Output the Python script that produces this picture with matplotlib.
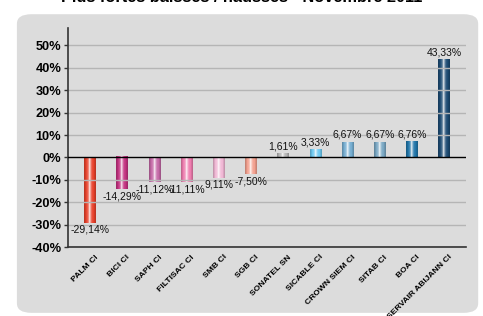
import numpy as np
import matplotlib
matplotlib.use("Agg")
import matplotlib.pyplot as plt
from matplotlib.patches import FancyBboxPatch
from matplotlib.colors import to_rgb
from matplotlib.transforms import ScaledTranslation

societes = ["PALM CI", "BICI CI", "SAPH CI", "FILTISAC CI", "SMB CI", "SGB CI",
            "SONATEL SN", "SICABLE CI", "CROWN SIEM CI", "SITAB CI", "BOA CI",
            "SERVAIR ABIJANN CI"]
variations = [-29.14, -14.29, -11.12, -11.11, -9.11, -7.50,
              1.61, 3.33, 6.67, 6.67, 6.76, 43.33]
etiquettes = ["-29,14%", "-14,29%", "-11,12%", "-11,11%", "9,11%", "-7,50%",
              "1,61%", "3,33%", "6,67%", "6,67%", "6,76%", "43,33%"]
couleurs = ["#e8402a", "#c2307f", "#c468a6", "#ee7cae", "#f0b6d4", "#f3a08e",
            "#b4b4b4", "#6cc8f0", "#74acd0", "#78a6c2", "#1f74a8", "#1c4a72"]

plt.rcParams["font.family"] = ["Liberation Sans", "DejaVu Sans"]

fig = plt.figure(figsize=(4.83, 3.16), dpi=100)
fig.patch.set_facecolor("white")

# fond gris arrondi
fond = FancyBboxPatch((0.035, 0.01), 0.955, 0.945,
                      boxstyle="round,pad=0,rounding_size=0.03",
                      transform=fig.transFigure, facecolor="#dcdcdc",
                      edgecolor="none", zorder=-5)
fig.patches.append(fond)

fig.text(0.5, 0.993, "Plus fortes baisses / hausses - Novembre 2011",
         ha="center", va="baseline", fontsize=11.8, fontweight="bold")

ax = fig.add_axes([0.141, 0.218, 0.824, 0.693])
ax.set_facecolor("none")
ax.set_zorder(2)

x = np.arange(len(societes))
w = 0.36

# effet cylindre sur chaque barre
profil = np.linspace(-1, 1, 80)
for xi, v, c in zip(x, variations, couleurs):
    base = np.array(to_rgb(c))
    lum = 0.55 * np.exp(-((profil + 0.05) / 0.32) ** 2) + 0.45 * np.exp(-((profil + 0.05) / 0.08) ** 2)
    ombre = 0.18 * (np.abs(profil) > 0.75)
    img = base[None, :] * (1 - lum[:, None]) + lum[:, None]
    img = img * (1 - ombre[:, None])
    img = np.clip(img, 0, 1)[None, :, :]
    y0, y1 = (0, v / 100) if v > 0 else (v / 100, 0)
    ax.imshow(img, extent=(xi - w / 2, xi + w / 2, y0, y1), aspect="auto",
              origin="lower", zorder=1, interpolation="bilinear")

for xi, v, lab in zip(x, variations, etiquettes):
    if v >= 0:
        ax.text(xi, v / 100 + 0.012, lab, ha="center", va="bottom", fontsize=7.5,
                color="#111111")
    else:
        ax.text(xi, v / 100 - 0.008, lab, ha="center", va="top", fontsize=7.5,
                color="#111111")

ax.set_xlim(-0.68, len(societes) - 0.32)
ax.set_ylim(-0.40, 0.577)
graduations = np.arange(-0.4, 0.51, 0.1)
ax.set_yticks(graduations)
ax.set_yticklabels([f"{int(round(t * 100))}%" for t in graduations],
                   fontsize=9.2, fontweight="bold")
for t in graduations:
    if abs(t) > 1e-9:
        ax.axhline(t, color="#b5b5b5", lw=1, zorder=2)
ax.axhline(0, color="black", lw=1, zorder=3)

ax.set_xticks(x)
ax.set_xticklabels(societes, rotation=45, ha="right", va="center",
                   rotation_mode="anchor", fontsize=6.1, fontweight="bold")
ax.tick_params(axis="x", length=0, pad=0)
decalage = ScaledTranslation(0.07, -0.09, fig.dpi_scale_trans)
for lbl in ax.get_xticklabels():
    lbl.set_transform(lbl.get_transform() + decalage)
ax.tick_params(axis="y", length=3, width=1, color="#333333", pad=2)

for s in ["top", "right"]:
    ax.spines[s].set_visible(False)
for s in ["left", "bottom"]:
    ax.spines[s].set_color("#333333")
    ax.spines[s].set_linewidth(1.2)

fig.savefig("out.png", dpi=100)
